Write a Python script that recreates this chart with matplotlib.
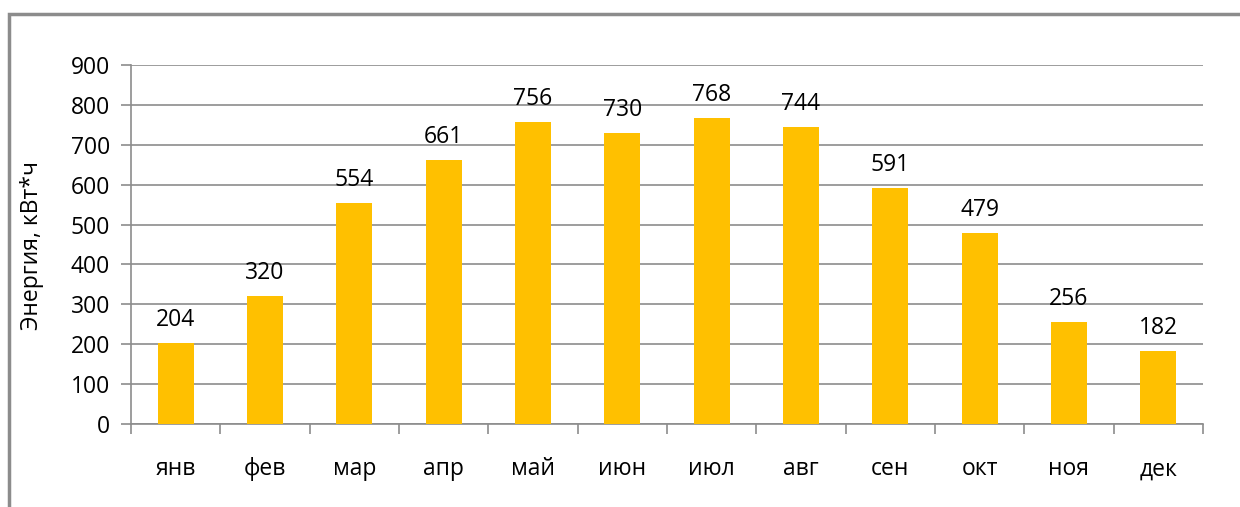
import matplotlib
matplotlib.use("Agg")
import matplotlib.pyplot as plt
from matplotlib.patches import Rectangle

months = ["янв", "фев", "мар", "апр", "май", "июн", "июл", "авг", "сен", "окт", "ноя", "дек"]
energy = [204, 320, 554, 661, 756, 730, 768, 744, 591, 479, 256, 182]
yticks = [0, 100, 200, 300, 400, 500, 600, 700, 800, 900]
ylabel = "Энергия, кВт*ч"

plt.rcParams['font.family'] = ['Open Sans', 'DejaVu Sans']
FS = 16.5

W, H = 1240, 507
fig = plt.figure(figsize=(W / 100, H / 100), dpi=100)
ax = fig.add_axes([131 / W, 1 - 424 / H, (1203 - 131) / W, (424 - 65) / H])

x = list(range(len(months)))
bars = ax.bar(x, energy, width=0.4, color="#FFC000", zorder=3)
for xi, v in zip(x, energy):
    ax.annotate(str(v), (xi, v), xytext=(0, 8), textcoords="offset points",
                ha="center", va="bottom", fontsize=FS, color="#000000")

ax.set_xlim(-0.5, len(months) - 0.5)
ax.set_ylim(0, 900)
ax.set_yticks(yticks)
ax.set_yticklabels([str(t) for t in yticks], fontsize=FS)
ax.yaxis.grid(True, color="#8c8c8c", linewidth=1.2, zorder=0)
ax.set_axisbelow(True)

ax.set_xticks(x)
ax.set_xticklabels(months, fontsize=FS)
ax.set_xticks([i - 0.5 for i in range(len(months) + 1)], minor=True)
ax.tick_params(axis="x", which="major", length=0, pad=24)
ax.tick_params(axis="x", which="minor", length=7, color="#8c8c8c", width=1.2)
ax.tick_params(axis="y", length=7, color="#8c8c8c", width=1.2, pad=8)

for s in ["top", "right"]:
    ax.spines[s].set_visible(False)
for s in ["left", "bottom"]:
    ax.spines[s].set_color("#8c8c8c")
    ax.spines[s].set_linewidth(1.2)

fig.text(32 / W, 1 - 245 / H, ylabel, rotation=90, ha="center", va="center", fontsize=FS)

fig.patches.append(Rectangle((8.5 / W, -0.05), 1.1, 1 - 14 / H + 0.05, transform=fig.transFigure,
                             fill=False, edgecolor="#8c8c8c", linewidth=2.5))

fig.savefig("out.png", dpi=100)
